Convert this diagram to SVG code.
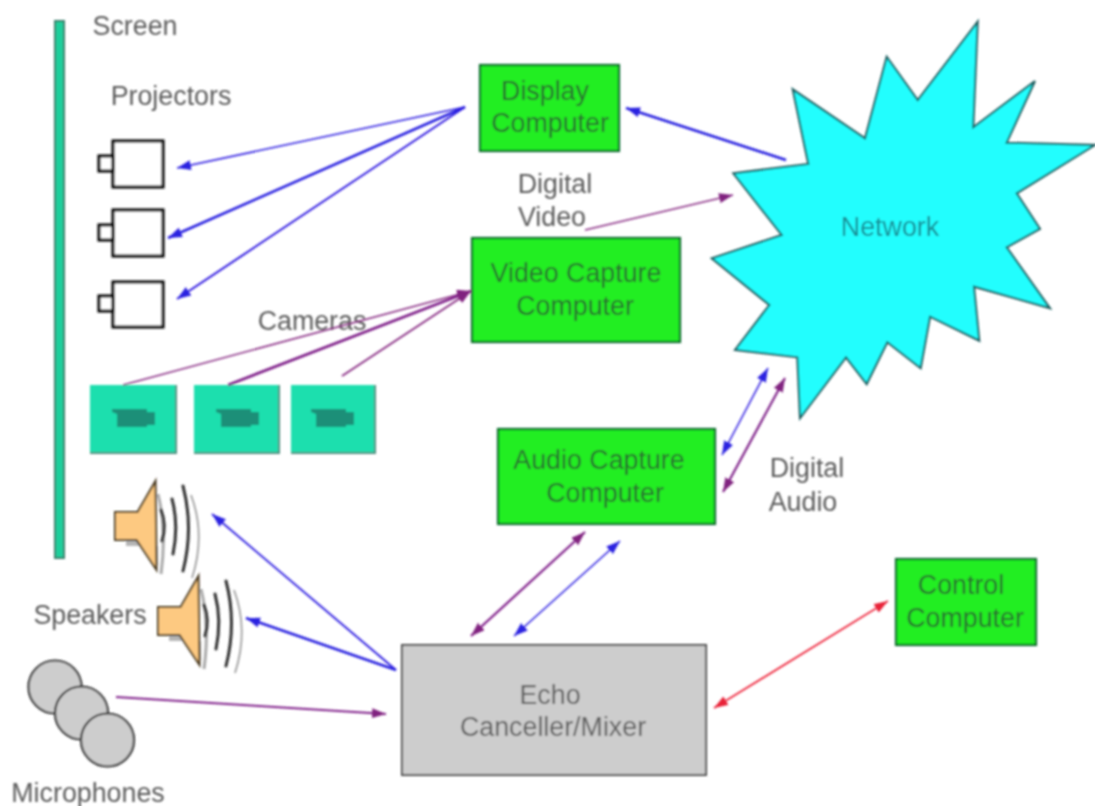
<svg xmlns="http://www.w3.org/2000/svg" width="1095" height="806" viewBox="0 0 1095 806">
<style>
text{font-family:"Liberation Sans",Arial,sans-serif;font-size:26.800px;fill:#5c5c5c;text-anchor:middle}
.g{fill:#22ee22;stroke:#0f6a2a;stroke-width:2.200}
.gt{fill:#2c6a30}
.cam{fill:#1fdfae}
.edge{fill:none;stroke:#4f8f80;stroke-width:2}
.glyph{fill:#1f8f78}
.proj{fill:#fff;stroke:#111;stroke-width:3.200}
.spk{fill:#fdc981;stroke:#4a3a20;stroke-width:2}
.wave{fill:none;stroke:#333;stroke-width:3;stroke-linecap:round}
.wave2{fill:none;stroke:#a0a0a0;stroke-width:1.800}
.mic{fill:#cdcdcd;stroke:#333;stroke-width:2.200}
.b1{fill:none;stroke:#2a1ce0;stroke-width:1.500}
.b2{fill:none;stroke:#2a20e0;stroke-width:2.600}
.p1{fill:none;stroke:#8a2f85;stroke-width:1.600}
.p2{fill:none;stroke:#80208a;stroke-width:2.800}
.r1{fill:none;stroke:#ee2a40;stroke-width:1.800}
</style>
<defs>
<filter id="soft" x="-5%" y="-5%" width="110%" height="110%"><feGaussianBlur stdDeviation="0.8"/></filter>
<marker id="ab" markerUnits="userSpaceOnUse" markerWidth="16" markerHeight="12" refX="14" refY="5" orient="auto-start-reverse"><path d="M0 0L14 5L0 10Z" fill="#2a20e0"/></marker>
<marker id="ap" markerUnits="userSpaceOnUse" markerWidth="16" markerHeight="12" refX="14" refY="5" orient="auto-start-reverse"><path d="M0 0L14 5L0 10Z" fill="#80207f"/></marker>
<marker id="ar" markerUnits="userSpaceOnUse" markerWidth="16" markerHeight="12" refX="14" refY="5" orient="auto-start-reverse"><path d="M0 0L14 5L0 10Z" fill="#e82038"/></marker>
<g id="spk">
<path d="M126 540H138L158 566V546H126Z" fill="#b5b5b5"/>
<path d="M158 494Q167 530 161 574" fill="none" stroke="#aaa" stroke-width="3"/>
<path class="spk" d="M115 512H137.500L155.500 481L156.500 570L136.500 540H115Z"/>
<path class="wave" d="M161 510Q167 525 162 541"/>
<path class="wave" d="M172 499Q179 525 173 554"/>
<path class="wave" d="M183 486Q194 528 183 571"/>
<path class="wave2" d="M191 495Q206 535 192 578"/>
</g>
<g id="camglyph">
<path class="glyph" d="M112 409H147V412H155V425H147V427H117V414L112 412Z"/>
</g>
</defs>
<g filter="url(#soft)">
<g id="screen"><rect x="55" y="21" width="9" height="537" fill="#1fcf9c" stroke="#3a7f6c" stroke-width="2"/><text x="135" y="35">Screen</text></g>
<g id="projectors">
<text x="171" y="105">Projectors</text>
<rect class="proj" x="113" y="141" width="50" height="46"/><rect class="proj" x="99" y="156" width="14" height="15"/>
<rect class="proj" x="113" y="210" width="50" height="46"/><rect class="proj" x="99" y="225" width="14" height="15"/>
<rect class="proj" x="113" y="282" width="50" height="45"/><rect class="proj" x="99" y="296" width="14" height="15"/>
</g>
<g id="network"><path fill="#22fefe" stroke="#1a5a5c" stroke-width="2" d="M977.700 21.700L973.300 127.300L1035 81L1006.700 142.700L1095 145L1016.700 193.300L1040 229L1006.700 247.300L1050 308.300L974 286.700L979.300 340.700L930 316.700L920.700 368.300L887.300 342.300L866.700 384L846 357.300L800 418.300L797.300 357.300L735 350L769.300 305L711.700 258.300L781.700 235L733.300 173.300L808.300 164L792.700 89.300L865 138.300L886.700 56.700L917.700 100Z"/><text x="890" y="236" style="fill:#1f8a92">Network</text></g>
<g id="display-computer"><rect class="g" x="480" y="65" width="139" height="86"/><text class="gt" x="545" y="100">Display</text><text class="gt" x="550" y="132">Computer</text></g>
<g id="video-capture-computer"><rect class="g" x="472" y="238" width="208" height="104"/><text class="gt" x="576" y="282">Video Capture</text><text class="gt" x="575" y="315">Computer</text></g>
<g id="audio-capture-computer"><rect class="g" x="498" y="429" width="217" height="95"/><text class="gt" x="599" y="469">Audio Capture</text><text class="gt" x="605" y="502">Computer</text></g>
<g id="control-computer"><rect class="g" x="896" y="559" width="140" height="86"/><text class="gt" x="961" y="594">Control</text><text class="gt" x="965" y="627">Computer</text></g>
<g id="echo-canceller"><rect x="402" y="645" width="304" height="130" fill="#cdcdcd" stroke="#4a4a4a" stroke-width="2"/><text x="550" y="704">Echo</text><text x="553" y="736">Canceller/Mixer</text></g>
<g id="camera-1"><rect class="cam" x="90" y="385" width="86" height="68"/><path class="edge" d="M176 385V453H90"/><use href="#camglyph"/></g>
<g id="camera-2"><rect class="cam" x="194" y="385" width="85" height="68"/><path class="edge" d="M279 385V453H194"/><use href="#camglyph" x="104"/></g>
<g id="camera-3"><rect class="cam" x="291" y="385" width="84" height="68"/><path class="edge" d="M375 385V453H291"/><use href="#camglyph" x="199"/></g>
<g id="speaker-1"><use href="#spk"/></g>
<g id="speaker-2"><use href="#spk" x="43" y="95"/></g>
<g id="microphones">
<circle class="mic" cx="55" cy="687" r="26.500"/><circle class="mic" cx="81.500" cy="713" r="26.500"/><circle class="mic" cx="107.500" cy="740" r="26.500"/>
</g>
<g id="labels">
<text x="555" y="193">Digital</text><text x="552" y="226">Video</text>
<text x="312" y="330">Cameras</text>
<text x="807" y="477">Digital</text><text x="803" y="511">Audio</text>
<text x="90" y="624">Speakers</text>
<text x="88" y="802">Microphones</text>
</g>
<g id="connectors">
<line class="b1" x1="465" y1="107" x2="177" y2="168" marker-end="url(#ab)"/>
<line class="b2" x1="465" y1="107" x2="168" y2="238" marker-end="url(#ab)"/>
<line class="b1" x1="465" y1="107" x2="177" y2="299" marker-end="url(#ab)" style="stroke-width:2"/>
<line class="b2" x1="786" y1="160" x2="626" y2="108" marker-end="url(#ab)"/>
<line class="p1" x1="585" y1="230" x2="733" y2="195" marker-end="url(#ap)"/>
<line class="p1" x1="123" y1="385" x2="471" y2="291" marker-end="url(#ap)"/>
<line class="p2" x1="228" y1="385" x2="471" y2="291" marker-end="url(#ap)"/>
<line class="p1" x1="342" y1="376" x2="471" y2="291" marker-end="url(#ap)" style="stroke-width:2"/>
<line class="b1" x1="722" y1="455" x2="768" y2="368" marker-start="url(#ab)" marker-end="url(#ab)"/>
<line class="p2" x1="723" y1="492" x2="785" y2="378" marker-start="url(#ap)" marker-end="url(#ap)" style="stroke-width:2.200"/>
<line class="p2" x1="585" y1="532" x2="471" y2="636" marker-start="url(#ap)" marker-end="url(#ap)" style="stroke-width:2.200"/>
<line class="b1" x1="620" y1="541" x2="514" y2="636" marker-start="url(#ab)" marker-end="url(#ab)"/>
<line class="r1" x1="888" y1="601" x2="714" y2="708" marker-start="url(#ar)" marker-end="url(#ar)"/>
<line class="b1" x1="396" y1="670" x2="212" y2="514" marker-end="url(#ab)" style="stroke-width:1.800"/>
<line class="b2" x1="396" y1="670" x2="246" y2="618" marker-end="url(#ab)"/>
<line class="p2" x1="116" y1="697" x2="386" y2="714" marker-end="url(#ap)" style="stroke-width:2.200"/>
</g>
</g>
</svg>
